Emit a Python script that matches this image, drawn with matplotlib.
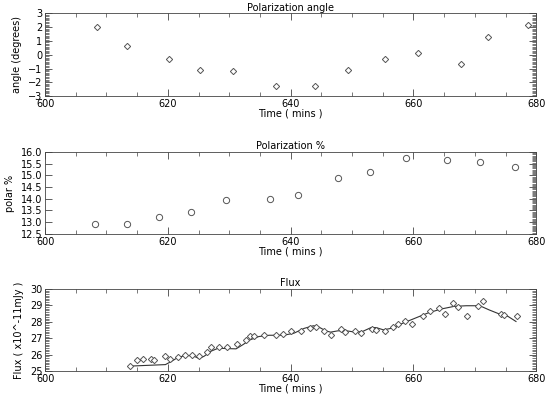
import matplotlib
matplotlib.use("Agg")
import matplotlib.pyplot as plt
from matplotlib.ticker import MultipleLocator

# Polarization angle
angle_t = [608.5, 613.4, 620.1, 625.2, 630.6, 637.6, 643.9, 649.3, 655.3, 660.7, 667.8, 672.1, 678.7]
angle_deg = [2.0, 0.62, -0.27, -1.1, -1.2, -2.27, -2.27, -1.1, -0.3, 0.12, -0.68, 1.27, 2.15]

# Polarization %
pol_t = [608.2, 613.4, 618.5, 623.7, 629.4, 636.6, 641.2, 647.7, 652.9, 658.8, 665.5, 670.8, 676.6]
pol_pct = [12.9, 12.91, 13.2, 13.45, 13.94, 13.99, 14.16, 14.9, 15.16, 15.73, 15.67, 15.56, 15.37]

# Flux points
flux_t = [613.9, 614.9, 616.0, 617.3, 617.7, 619.5, 620.4, 621.7, 622.8, 624.0,
          625.1, 626.3, 627.0, 628.3, 629.7, 631.3, 632.7, 633.3, 634.1, 635.6,
          637.6, 638.7, 640.1, 641.7, 643.1, 644.1, 645.4, 646.6, 648.2, 648.9,
          650.5, 651.5, 653.2, 653.9, 655.3, 656.7, 657.5, 658.7, 659.7, 661.5,
          662.7, 664.1, 665.2, 666.4, 667.3, 668.7, 670.5, 671.4, 674.2, 674.8, 676.8]
flux_val = [25.3, 25.69, 25.73, 25.72, 25.7, 25.9, 25.73, 25.83, 25.98, 25.98,
            25.93, 26.18, 26.44, 26.46, 26.44, 26.62, 26.89, 27.11, 27.13, 27.2,
            27.2, 27.24, 27.42, 27.46, 27.64, 27.66, 27.46, 27.2, 27.54, 27.4,
            27.42, 27.32, 27.54, 27.52, 27.42, 27.66, 27.88, 28.05, 27.88, 28.37,
            28.68, 28.86, 28.46, 29.13, 28.92, 28.37, 28.98, 29.29, 28.46, 28.41, 28.37]

# Smoothed flux curve
curve_t = [613.9, 619.6, 620.5, 621.6, 622.8, 624.0, 625.1, 625.9, 627.1, 628.2,
           629.4, 631.1, 632.2, 633.4, 634.8, 636.5, 638.8, 640.5, 642.2, 643.7,
           644.5, 645.7, 646.5, 647.7, 649.1, 650.5, 651.7, 653.1, 653.9, 655.1,
           656.5, 658.3, 660.0, 662.3, 664.5, 666.6, 668.6, 670.8, 672.3, 674.3,
           675.4, 676.7]
curve_val = [25.3, 25.39, 25.57, 25.82, 25.94, 25.94, 25.76, 25.9, 26.22, 26.39,
             26.37, 26.35, 26.6, 26.9, 27.1, 27.18, 27.18, 27.3, 27.6, 27.76,
             27.7, 27.45, 27.37, 27.45, 27.45, 27.37, 27.41, 27.65, 27.65, 27.51,
             27.61, 27.92, 28.18, 28.53, 28.78, 28.94, 28.98, 28.98, 28.73, 28.43,
             28.33, 28.02]

plt.rcParams['font.size'] = 7
plt.rcParams['font.family'] = 'DejaVu Sans'

fig = plt.figure(figsize=(5.5, 3.97), dpi=100)
ax1 = fig.add_axes([0.082, 0.758, 0.893, 0.208])
ax2 = fig.add_axes([0.082, 0.411, 0.893, 0.206])
ax3 = fig.add_axes([0.082, 0.0655, 0.893, 0.2065])

grey = '#555555'

ax1.plot(angle_t, angle_deg, linestyle='none', marker='D', markersize=3.2,
         markerfacecolor='white', markeredgecolor=grey, markeredgewidth=0.7)
ax1.set_ylim(-3, 3)
ax1.yaxis.set_major_locator(MultipleLocator(1))
ax1.yaxis.set_minor_locator(MultipleLocator(0.1))
ax1.set_ylabel('angle (degrees)')
ax1.set_title('Polarization angle', fontsize=7, pad=2)

ax2.plot(pol_t, pol_pct, linestyle='none', marker='o', markersize=4.5,
         markerfacecolor='white', markeredgecolor=grey, markeredgewidth=0.7)
ax2.set_ylim(12.5, 16.0)
ax2.yaxis.set_major_locator(MultipleLocator(0.5))
ax2.yaxis.set_minor_locator(MultipleLocator(0.05))
ax2.yaxis.set_major_formatter('{x:.1f}')
ax2.set_ylabel('polar %')
ax2.set_title('Polarization %', fontsize=7, pad=2)

ax3.plot(curve_t, curve_val, color='#333333', linewidth=0.8)
ax3.plot(flux_t, flux_val, linestyle='none', marker='D', markersize=3.2,
         markerfacecolor='white', markeredgecolor=grey, markeredgewidth=0.7)
ax3.set_ylim(25, 30)
ax3.yaxis.set_major_locator(MultipleLocator(1))
ax3.yaxis.set_minor_locator(MultipleLocator(0.1))
ax3.set_ylabel('Flux ( x10^-11mJy )')
ax3.set_title('Flux', fontsize=7, pad=2)

for ax in (ax1, ax2, ax3):
    ax.set_xlim(600, 680)
    ax.xaxis.set_major_locator(MultipleLocator(20))
    ax.xaxis.set_minor_locator(MultipleLocator(5))
    ax.set_xlabel('Time ( mins )', labelpad=0)
    ax.tick_params(which='both', direction='in', top=True, right=True,
                   color='#444444', labelsize=7, pad=2)
    ax.tick_params(which='major', length=5, width=0.6)
    ax.tick_params(which='minor', length=3, width=0.5)
    for s in ax.spines.values():
        s.set_linewidth(0.6)
        s.set_color('#444444')

ax2.tick_params(which='minor', left=False)

fig.savefig('out.png', dpi=100)
